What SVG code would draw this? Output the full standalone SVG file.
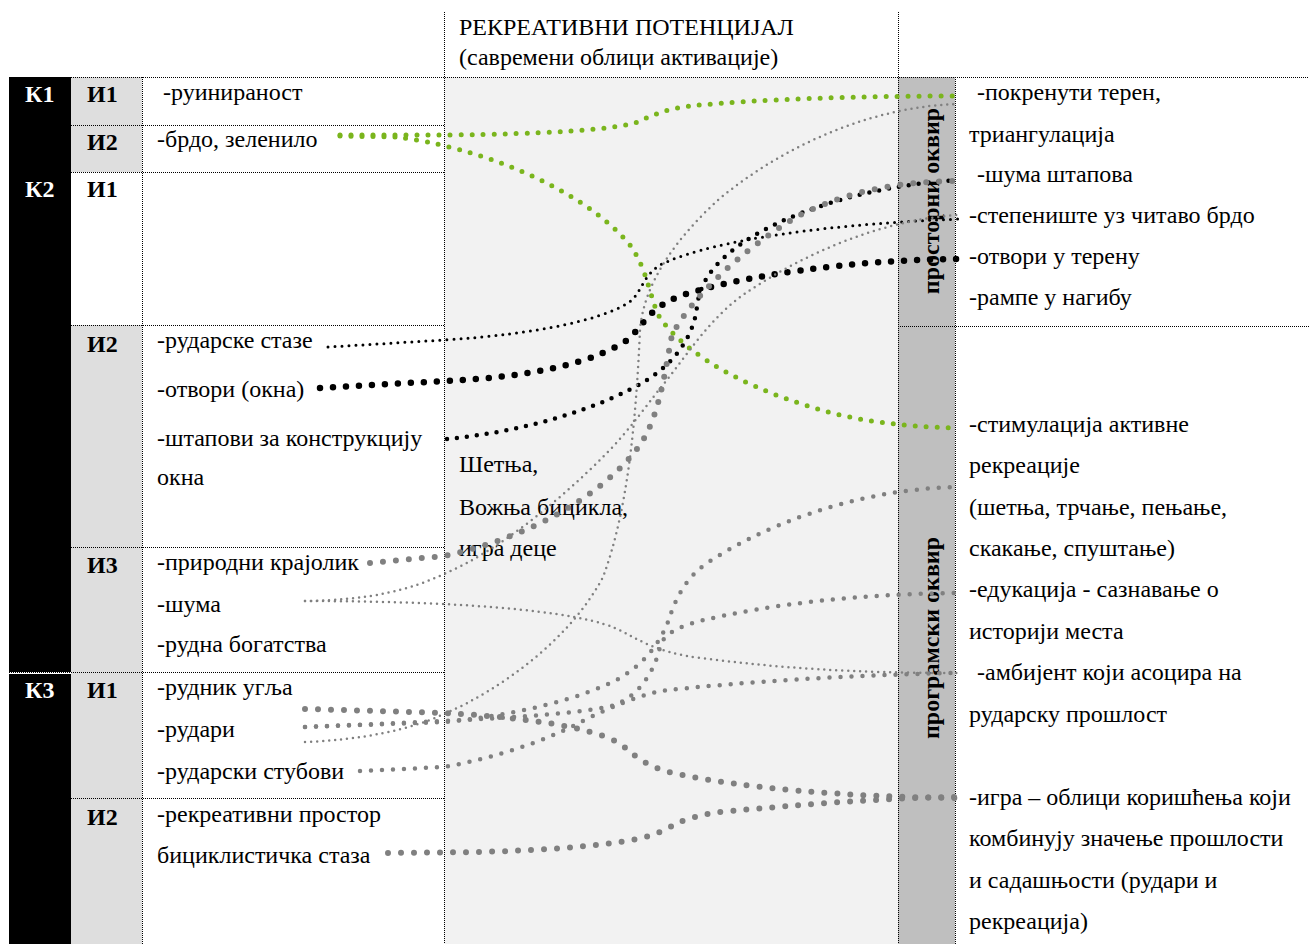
<svg xmlns="http://www.w3.org/2000/svg" width="1309" height="944" viewBox="0 0 1309 944" font-family="'Liberation Serif', 'Times New Roman', 'DejaVu Serif', serif">
<style>
.t{font-size:24px;fill:#000}
.b{font-size:24px;font-weight:bold;fill:#000}
.w{fill:#fff}
.g{stroke:#000;stroke-width:1;stroke-dasharray:1 1;fill:none}
.c{fill:none;stroke-linecap:round}
.gn{stroke:#7ab51d;stroke-width:5;stroke-dasharray:0 11}
.ks{stroke:#000;stroke-width:3;stroke-dasharray:0 7}
.km{stroke:#000;stroke-width:4.5;stroke-dasharray:0 10}
.kl{stroke:#000;stroke-width:6.5;stroke-dasharray:0 13}
.ys{stroke:#808080;stroke-width:2.5;stroke-dasharray:0 6}
.ym{stroke:#808080;stroke-width:4.5;stroke-dasharray:0 11}
.yl{stroke:#808080;stroke-width:6;stroke-dasharray:0 13}
</style>
<rect width="1309" height="944" fill="#fff"/>
<g id="backgrounds">
<rect x="444" y="77" width="454" height="867" fill="#f2f2f2"/>
<rect x="898" y="77" width="57" height="867" fill="#bfbfbf"/>
<rect x="71" y="77" width="71" height="867" fill="#dedede"/>
<rect x="71" y="172" width="71" height="153" fill="#fff"/>
<rect x="9" y="77" width="62" height="595" fill="#000"/>
<rect x="9" y="674" width="62" height="270" fill="#000"/>
</g>
<g id="grid">
<line class="g" x1="9" y1="77.5" x2="1309" y2="77.5"/>
<line class="g" x1="444.5" y1="12" x2="444.5" y2="944"/>
<line class="g" x1="898.5" y1="12" x2="898.5" y2="944"/>
<line class="g" x1="142.5" y1="77" x2="142.5" y2="944"/>
<line class="g" x1="955.5" y1="77" x2="955.5" y2="944"/>
<line class="g" x1="71" y1="125.5" x2="444" y2="125.5"/>
<line class="g" x1="71" y1="172.5" x2="444" y2="172.5"/>
<line class="g" x1="71" y1="325.5" x2="444" y2="325.5"/>
<line class="g" x1="898" y1="326.5" x2="1309" y2="326.5"/>
<line class="g" x1="71" y1="547.5" x2="444" y2="547.5"/>
<line class="g" x1="9" y1="672.5" x2="444" y2="672.5"/>
<line class="g" x1="71" y1="798.5" x2="444" y2="798.5"/>
</g>
<g id="header">
<text class="t" x="459" y="35">РЕКРЕАТИВНИ ПОТЕНЦИЈАЛ</text>
<text class="t" x="459" y="65">(савремени облици активације)</text>
</g>
<g id="band-labels">
<text class="b" transform="translate(939,201) rotate(-90)" text-anchor="middle">просторни оквир</text>
<text class="b" transform="translate(939,638) rotate(-90)" text-anchor="middle">програмски оквир</text>
</g>
<g id="K1">
<text class="b w" x="25" y="102">К1</text>
<text class="b" x="87" y="102">И1</text>
<text class="t" x="163" y="100">-руинираност</text>
<text class="b" x="87" y="150">И2</text>
<text class="t" x="157" y="147">-брдо, зеленило</text>
</g>
<g id="K2">
<text class="b w" x="25" y="197">К2</text>
<text class="b" x="87" y="197">И1</text>
<text class="b" x="87" y="352">И2</text>
<text class="t" x="157" y="348">-рударске стазе</text>
<text class="t" x="157" y="397">-отвори (окна)</text>
<text class="t" x="157" y="446">-штапови за конструкцију</text>
<text class="t" x="157" y="485">окна</text>
<text class="b" x="87" y="573">И3</text>
<text class="t" x="157" y="570">-природни крајолик</text>
<text class="t" x="157" y="612">-шума</text>
<text class="t" x="157" y="652">-рудна богатства</text>
</g>
<g id="K3">
<text class="b w" x="25" y="698">К3</text>
<text class="b" x="87" y="698">И1</text>
<text class="t" x="157" y="695">-рудник угља</text>
<text class="t" x="157" y="737">-рудари</text>
<text class="t" x="157" y="779">-рударски стубови</text>
<text class="b" x="87" y="825">И2</text>
<text class="t" x="157" y="822">-рекреативни простор</text>
<text class="t" x="157" y="863">бициклистичка стаза</text>
</g>
<g id="potential">
<text class="t" x="459" y="472">Шетња,</text>
<text class="t" x="459" y="515">Вожња бицикла,</text>
<text class="t" x="459" y="556">игра деце</text>
</g>
<g id="spatial">
<text class="t" x="977" y="100">-покренути терен,</text>
<text class="t" x="969" y="142">триангулација</text>
<text class="t" x="977" y="182">-шума штапова</text>
<text class="t" x="969" y="223">-степениште уз читаво брдо</text>
<text class="t" x="969" y="264">-отвори у терену</text>
<text class="t" x="969" y="305">-рампе у нагибу</text>
</g>
<g id="program">
<text class="t" x="969" y="432">-стимулација активне</text>
<text class="t" x="969" y="473">рекреације</text>
<text class="t" x="969" y="515">(шетња, трчање, пењање,</text>
<text class="t" x="969" y="556">скакање, спуштање)</text>
<text class="t" x="969" y="597">-едукација - сазнавање о</text>
<text class="t" x="969" y="639">историји места</text>
<text class="t" x="977" y="680">-амбијент који асоцира на</text>
<text class="t" x="969" y="722">рударску прошлост</text>
<text class="t" x="969" y="805">-игра – облици коришћења који</text>
<text class="t" x="969" y="846">комбинују значење прошлости</text>
<text class="t" x="969" y="888">и садашњости (рудари и</text>
<text class="t" x="969" y="929">рекреација)</text>
</g>
<g id="connectors">
<path class="c gn" d="M340,135 L450,135 C 540,134 610,130 635,123 C 650,117 660,110 690,106 C 760,99 860,96 960,96"/>
<path class="c gn" d="M340,136 L395,137 C 470,145 580,185 630,245 C 648,270 650,300 660,318 C 690,360 760,395 840,415 C 880,424 920,427 955,428"/>
<path class="c ks" d="M328,347 L444,340 C 540,334 610,318 632,300 C 642,290 644,275 660,265 C 700,245 800,225 960,219"/>
<path class="c kl" d="M320,388 L444,381 C 540,377 600,360 630,338 C 645,322 650,308 680,296 C 740,276 850,260 958,259"/>
<path class="c km" d="M447,439 C 520,432 600,410 650,378 C 680,358 695,330 697,306 C 700,285 710,268 733,250 C 780,213 870,185 958,180"/>
<path class="c yl" d="M370,563 L444,556 C 520,540 600,500 640,445 C 660,415 665,370 672,335 C 690,300 740,250 800,215 C 850,190 900,182 955,181"/>
<path class="c ys" d="M305,601 C 370,600 410,590 444,574 C 500,550 560,500 605,455 C 630,430 650,400 667,380 C 690,350 710,320 740,297 C 800,255 880,220 958,215"/>
<path class="c ys" d="M305,601 C 400,601 560,605 615,628 C 640,640 655,652 700,658 C 780,668 850,673 958,673"/>
<path class="c ys" d="M305,742 C 360,740 410,730 444,714 C 500,690 570,640 603,577 C 628,510 636,420 640,330 C 644,280 680,235 718,200 C 790,140 880,106 958,104"/>
<path class="c yl" d="M305,709 L444,713 C 540,718 600,730 622,745 C 635,756 645,766 673,773 C 740,788 850,797 955,798"/>
<path class="c ym" d="M305,727 L444,722 C 510,716 580,700 620,678 C 650,660 665,635 672,610 C 680,590 690,575 707,563 C 760,528 850,490 955,487"/>
<path class="c ym" d="M305,727 L444,721 C 530,717 590,712 615,705 C 640,695 655,670 660,647 C 663,635 675,628 700,621 C 770,604 860,594 955,593"/>
<path class="c ym" d="M360,771 L444,767 C 500,757 545,740 575,725 C 600,712 625,700 660,691 C 740,682 850,675 955,673"/>
<path class="c yl" d="M388,853 L480,852 C 580,849 640,842 660,832 C 680,822 690,815 730,811 C 800,805 880,798 955,797"/>
</g>
</svg>
